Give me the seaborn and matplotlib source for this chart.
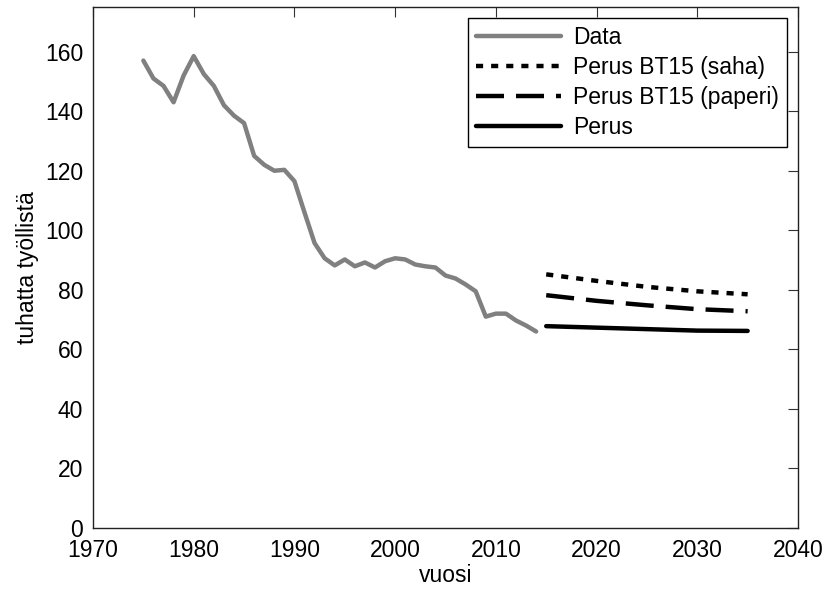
import matplotlib
matplotlib.use("Agg")
import matplotlib.pyplot as plt
import seaborn as sns
import pandas as pd

data_years = list(range(1975, 2015))
data_values = [157, 151, 148.5, 143, 152, 158.5, 152.5, 148.5, 142, 138.5,
               136, 125, 122, 120, 120.3, 116.5, 106, 95.7, 90.6, 88.2,
               90.2, 87.9, 89.2, 87.5, 89.6, 90.6, 90.2, 88.5, 87.9, 87.5,
               84.8, 83.8, 81.8, 79.5, 71, 72, 72, 69.7, 68, 66]

proj_years = [2015, 2020, 2025, 2030, 2035]
saha_values = [85.2, 83.0, 81.0, 79.5, 78.5]
paperi_values = [78.2, 76.3, 74.8, 73.5, 72.8]
perus_values = [67.8, 67.3, 66.8, 66.3, 66.2]

labels = ["Data", "Perus BT15 (saha)", "Perus BT15 (paperi)", "Perus"]
xticks = [1970, 1980, 1990, 2000, 2010, 2020, 2030, 2040]
yticks = [0, 20, 40, 60, 80, 100, 120, 140, 160]

sns.set_style("white")
plt.rcParams['font.family'] = ['Liberation Sans', 'DejaVu Sans']
plt.rcParams.update({"text.color": "black", "axes.labelcolor": "black",
                     "xtick.color": "black", "ytick.color": "black"})

fig = plt.figure(figsize=(8.29, 5.9), dpi=100)
ax = fig.add_axes([93/829, 1-528/590, (798-93)/829, (528-7)/590])

lw = 3.2
fs = 16.5
sns.lineplot(x=data_years, y=data_values, ax=ax, color="#808080", lw=lw, label=labels[0])
sns.lineplot(x=proj_years, y=saha_values, ax=ax, color="black", lw=lw, label=labels[1],
             linestyle=(0, (1.6, 1.8)))
sns.lineplot(x=proj_years, y=paperi_values, ax=ax, color="black", lw=lw, label=labels[2],
             linestyle=(0, (6.3, 2.7)))
sns.lineplot(x=proj_years, y=perus_values, ax=ax, color="black", lw=lw, label=labels[3])

ax.set_xlim(1970, 2040)
ax.set_ylim(0, 175)
ax.set_xticks(xticks)
ax.set_yticks(yticks)
ax.tick_params(direction="in", length=7, width=0.8, top=True, right=True,
               labelsize=fs, color="#333333", labelcolor="black")
ax.tick_params(axis="y", pad=7)
ax.tick_params(axis="x", pad=8)
for s in ax.spines.values():
    s.set_linewidth(1.0)
    s.set_color("#222222")
ax.set_xlabel("vuosi", fontsize=fs, labelpad=1, color="black")
ax.set_ylabel("tuhatta työllistä", fontsize=fs, labelpad=4, color="black")

leg = ax.legend(loc="upper right", fontsize=fs, frameon=True, fancybox=False,
                edgecolor="black", framealpha=1, handlelength=3.7,
                borderaxespad=0.5, labelspacing=0.3, handletextpad=0.5,
                borderpad=0.35)
leg.get_frame().set_linewidth(1.0)
for t in leg.get_texts():
    t.set_color("black")

fig.savefig("out.png", dpi=100)
